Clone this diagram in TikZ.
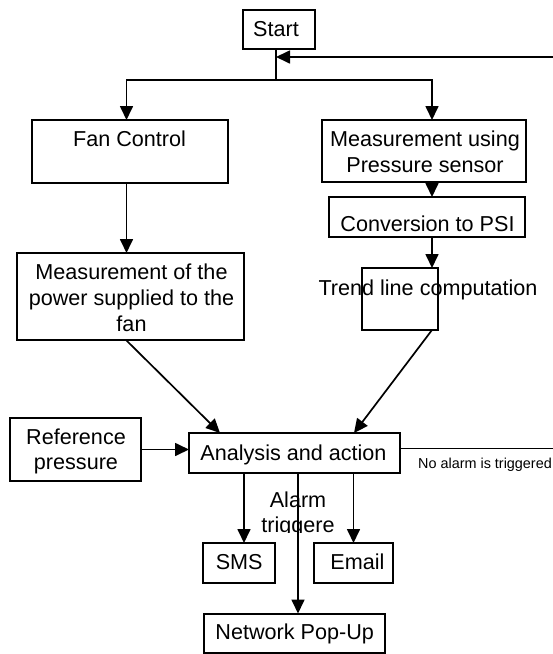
\documentclass[tikz,border=0pt]{standalone}
\usepackage{fontspec}
\setmainfont{Liberation Sans}
\usetikzlibrary{arrows.meta}
\begin{document}
\begin{tikzpicture}[x=1pt,y=-1pt,
  box/.style={draw,line width=2pt,inner sep=0pt,outer sep=0pt},
  txt/.style={inner sep=0pt,align=center,font=\fontsize{21.6}{25.6}\selectfont},
  smalltxt/.style={inner sep=0pt,font=\fontsize{14.4}{17}\selectfont},
  conn/.style={line width=1.7pt},
  arr/.style={conn,-{Triangle[length=14pt,width=13pt]}}
]
\useasboundingbox (0,0) rectangle (553,654);

% boxes
\node[box,minimum width=72pt,minimum height=39pt] (start) at (279,29.5) {};
\node[box,minimum width=196pt,minimum height=63pt] (fan) at (130,151.5) {};
\node[box,minimum width=204pt,minimum height=62pt] (meas) at (424,151) {};
\node[box,minimum width=196pt,minimum height=40pt] (conv) at (427,217) {};
\node[box,minimum width=76pt,minimum height=62pt] (trend) at (400,299) {};
\node[box,minimum width=227pt,minimum height=87pt] (power) at (130.5,296.5) {};
\node[box,minimum width=131pt,minimum height=63pt] (ref) at (75.5,449.5) {};
\node[box,minimum width=211pt,minimum height=40pt] (ana) at (294.5,453) {};
\node[box,minimum width=72pt,minimum height=40pt] (sms) at (239,563) {};
\node[box,minimum width=79pt,minimum height=40pt] (email) at (353.5,563) {};
\node[box,minimum width=181pt,minimum height=39pt] (net) at (294.5,633) {};

% texts
\node[txt] (startT) at (276,29.5) {Start};
\node[txt] (fanT) at (129.5,139) {Fan Control};
\node[txt] (measT) at (425,152) {Measurement using\\Pressure sensor};
\node[txt] (convT) at (427.5,224) {Conversion to PSI};
\node[txt] (trendT) at (428,289.8) {Trend line computation};
\node[txt] (powerT) at (131.5,297.7) {Measurement of the\\power supplied to the\\fan};
\node[txt] (refT) at (76,451.3) {Reference\\pressure};
\node[txt] (anaT) at (293.5,455.3) {Analysis and action};
\node[txt] (smsT) at (239.2,562) {SMS};
\node[txt] (emailT) at (357.5,562) {Email};
\node[txt] (netT) at (294.7,634.3) {Network Pop-Up};
\node[smalltxt] (noT) at (485,464.5) {No alarm is triggered};
\begin{scope}
  \clip (240,480) rectangle (360,532);
  \node[txt] (alarmT) at (298,514.3) {Alarm\\triggere};
\end{scope}

% connectors
\coordinate (split) at (276,80);
\coordinate (fbR) at (553,57);
\coordinate (noR) at (553,448.5);
\draw[conn] (start.south -| split) -- (split);
\draw[arr] (split) -| ([xshift=-3.5pt]fan.north);
\draw[arr] (split) -| ([xshift=8pt]meas.north);
\draw[arr] (fbR) -- (fbR -| split);
\draw[arr] ([xshift=-3.5pt]fan.south) -- ([xshift=-3.5pt]fan.south |- power.north);
\draw[arr] ([xshift=8pt]meas.south) -- ([xshift=8pt]meas.south |- conv.north);
\draw[arr] ([xshift=5pt]conv.south) -- ([xshift=5pt]conv.south |- trend.north);
\draw[arr] ([xshift=-4.5pt]power.south) -- ([xshift=-74.5pt]ana.north);
\draw[arr] ([xshift=32pt]trend.south) -- ([xshift=59.5pt]ana.north);
\draw[arr] (ref.east) -- (ref.east -| ana.west);
\draw[conn] (ana.east |- noR) -- (noR);
\draw[arr] ([xshift=-50.5pt]ana.south) -- ([xshift=-50.5pt]ana.south |- sms.north);
\draw[arr] ([xshift=3.5pt]ana.south) -- ([xshift=3.5pt]ana.south |- net.north);
\draw[arr] ([xshift=59pt]ana.south) -- ([xshift=59pt]ana.south |- email.north);
\end{tikzpicture}
\end{document}
